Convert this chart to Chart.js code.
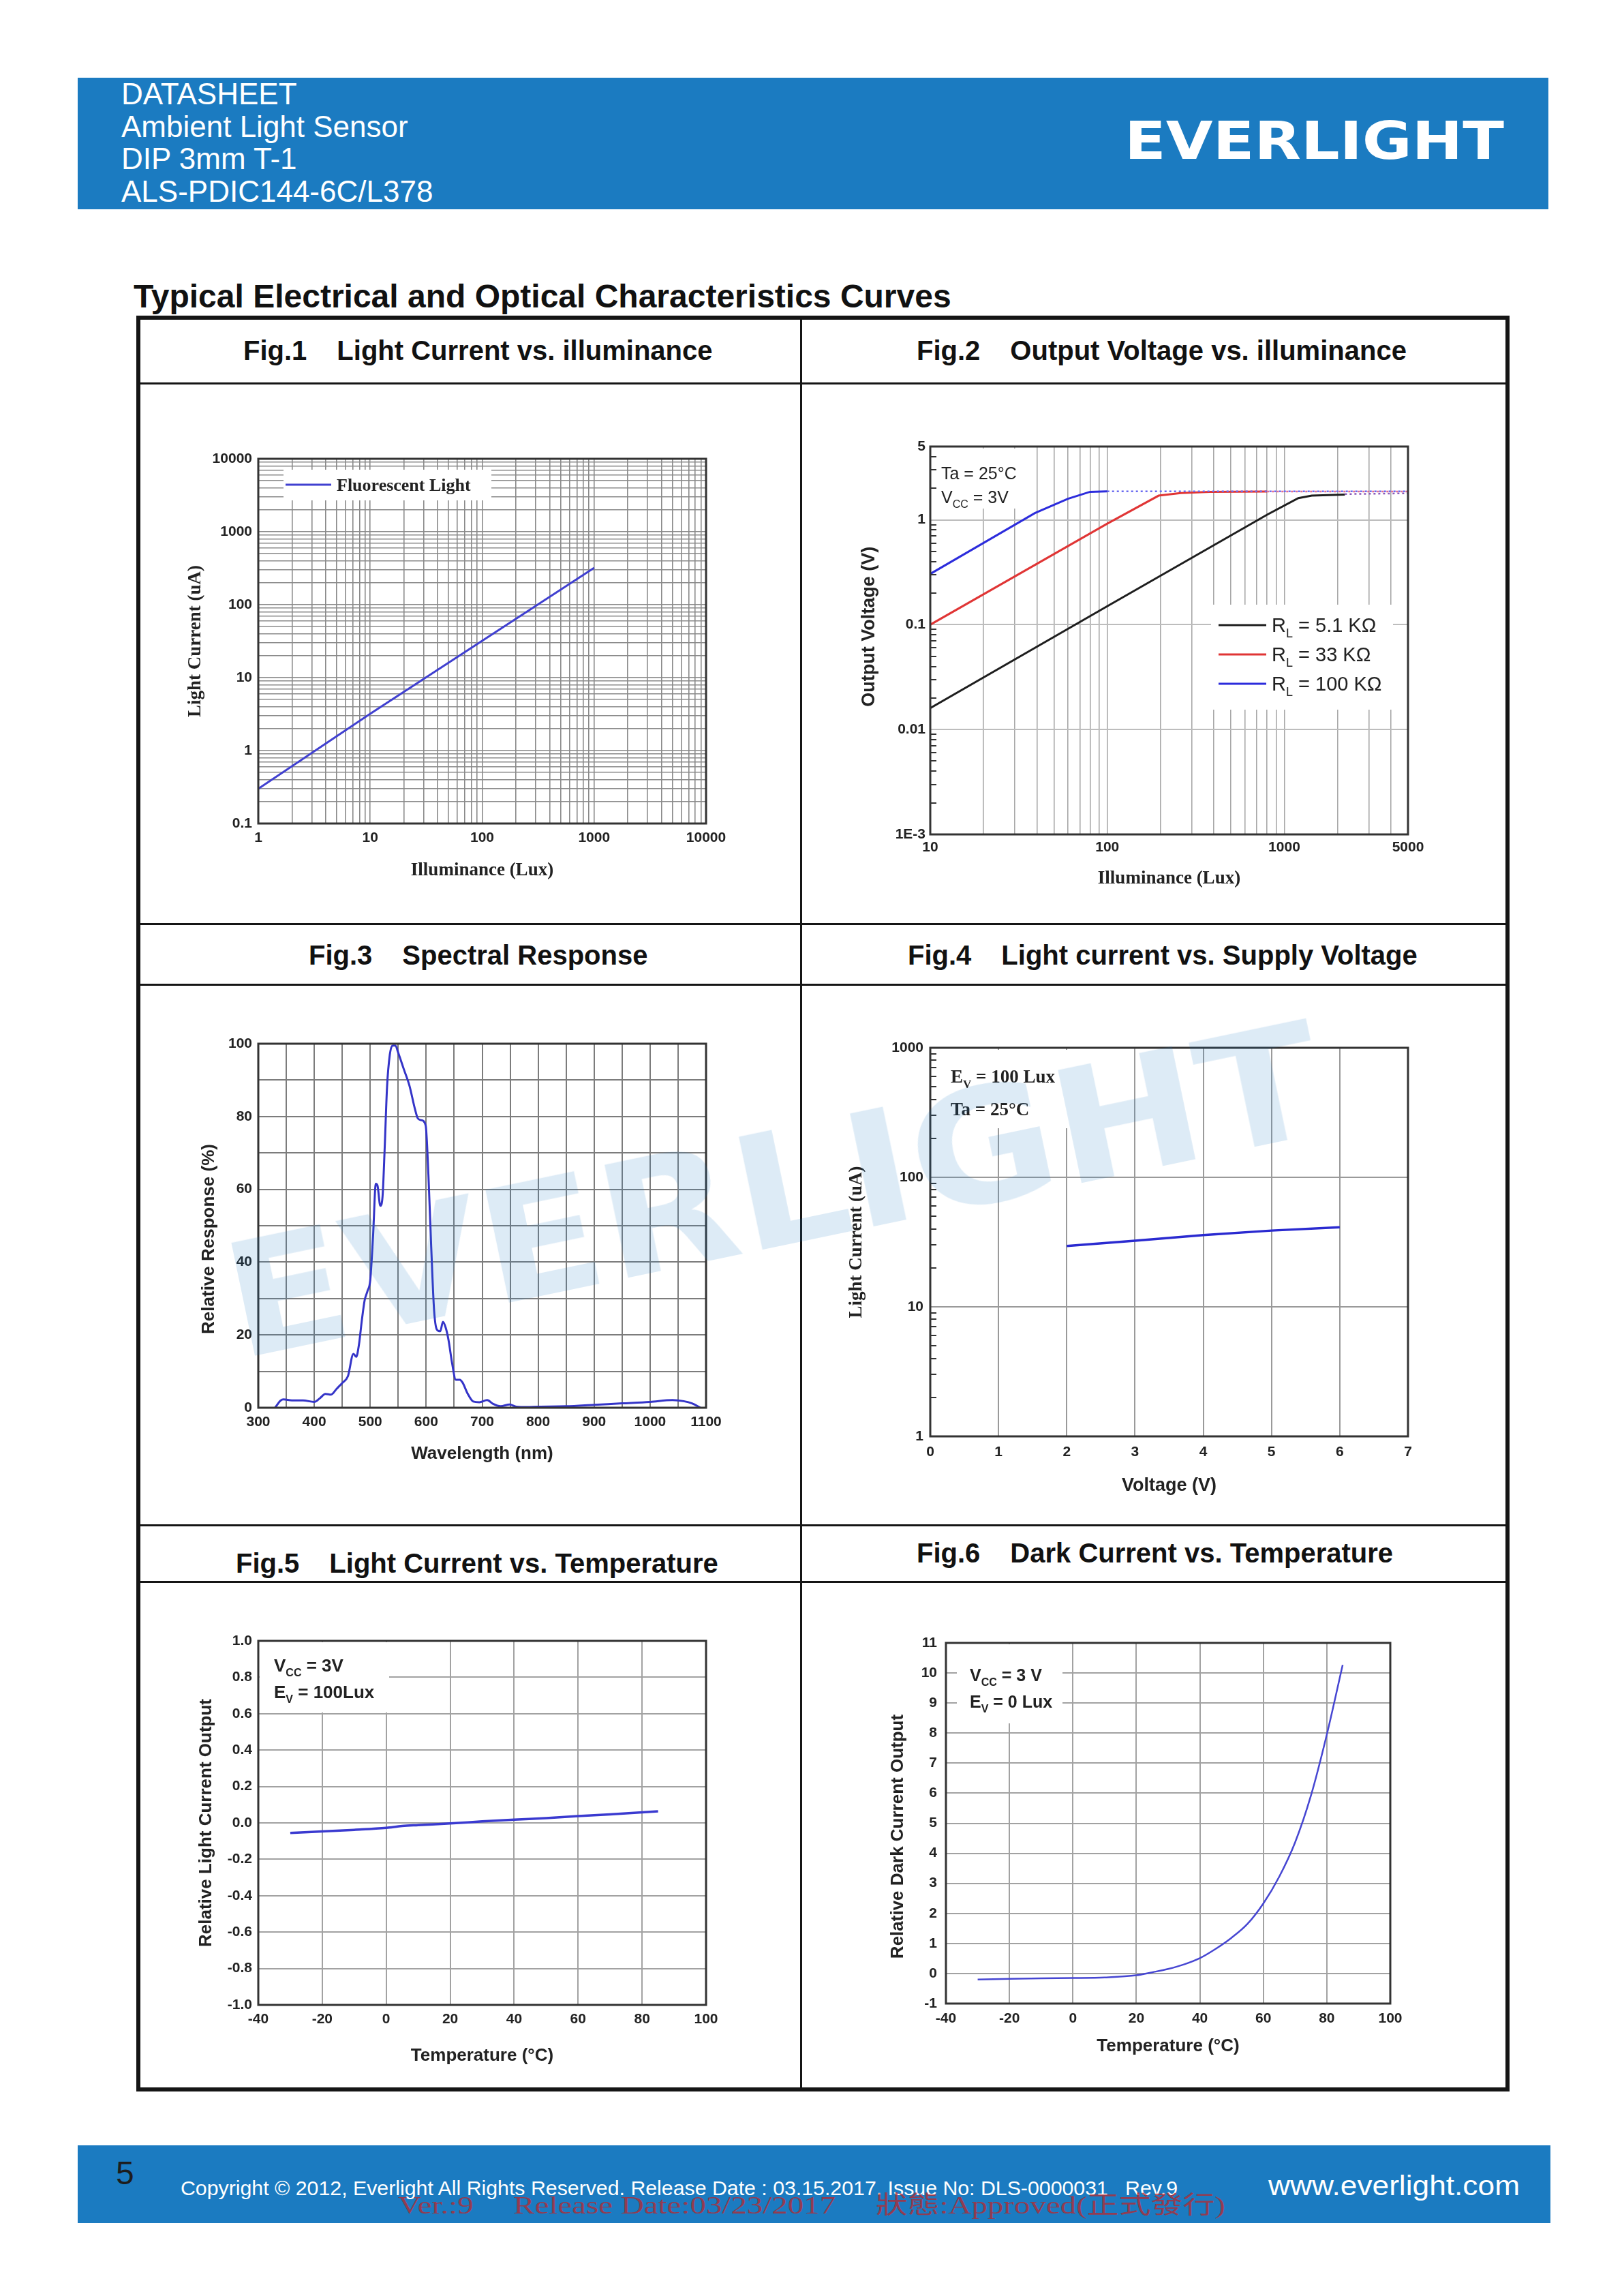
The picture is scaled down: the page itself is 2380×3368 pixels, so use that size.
<!DOCTYPE html>
<html>
<head>
<meta charset="utf-8">
<title>ALS-PDIC144-6C/L378 - Typical Curves</title>
<script src="https://cdn.jsdelivr.net/npm/chart.js@4.4.1/dist/chart.umd.min.js"></script>
<style>
  html, body { margin: 0; padding: 0; }
  body { width: 2380px; height: 3368px; position: relative; background: #fff; overflow: hidden;
         font-family: "Liberation Sans", Arial, sans-serif; color: #111; }
  .band { position: absolute; background: #1b7bc1; }
  .hd { position: absolute; left: 178px; color: #fff; font-size: 44px; line-height: 44px; white-space: nowrap; }
  .logo { position: absolute; left: 1650px; top: 168px; color: #fff; font-family: "DejaVu Sans", sans-serif;
          font-weight: bold; font-size: 77px; line-height: 77px; white-space: nowrap; }
  .rule { position: absolute; background: #151515; }
  .frame { position: absolute; border: 6px solid #151515; box-sizing: border-box; }
  .figt { position: absolute; font-weight: bold; font-size: 40px; line-height: 40px; white-space: nowrap; color: #111; }
  .figt span + span { margin-left: 44px; }
  canvas { position: absolute; }
  #wm { position: absolute; left: 1135px; top: 1748px; font-family: "DejaVu Sans", sans-serif; font-weight: bold;
        font-size: 232px; line-height: 232px; color: rgba(27, 123, 193, 0.15); white-space: nowrap; pointer-events: none; }
  .foot { position: absolute; white-space: nowrap; }
</style>
</head>
<body>

<div class="band" style="left:114px; top:114px; width:2158px; height:193px;"></div>
<div class="hd" style="top:116px;">DATASHEET</div>
<div class="hd" style="top:164px;">Ambient Light Sensor</div>
<div class="hd" style="top:211px;">DIP 3mm T-1</div>
<div class="hd" style="top:259px;">ALS-PDIC144-6C/L378</div>
<div class="logo" id="logo">EVERLIGHT</div>

<div class="figt" style="left:196px; top:411px; font-size:48px; line-height:48px;">Typical Electrical and Optical Characteristics Curves</div>

<div class="frame" style="left:200px; top:463px; width:2015px; height:2605px;"></div>
<div class="rule" style="left:1174px; top:463px; width:3px; height:2605px;"></div>
<div class="rule" style="left:200px; top:561px; width:2015px; height:3px;"></div>
<div class="rule" style="left:200px; top:1354px; width:2015px; height:3px;"></div>
<div class="rule" style="left:200px; top:1443px; width:2015px; height:3px;"></div>
<div class="rule" style="left:200px; top:2236px; width:2015px; height:3px;"></div>
<div class="rule" style="left:200px; top:2319px; width:2015px; height:3px;"></div>

<div class="figt" style="left:357px; top:494px;"><span>Fig.1</span><span>Light Current vs. illuminance</span></div>
<div class="figt" style="left:1345px; top:494px;"><span>Fig.2</span><span>Output Voltage vs. illuminance</span></div>
<div class="figt" style="left:453px; top:1381px;"><span>Fig.3</span><span>Spectral Response</span></div>
<div class="figt" style="left:1332px; top:1381px;"><span>Fig.4</span><span>Light current vs. Supply Voltage</span></div>
<div class="figt" style="left:346px; top:2273px;"><span>Fig.5</span><span>Light Current vs. Temperature</span></div>
<div class="figt" style="left:1345px; top:2258px;"><span>Fig.6</span><span>Dark Current vs. Temperature</span></div>

<canvas id="fig1"></canvas>
<canvas id="fig2"></canvas>
<canvas id="fig3"></canvas>
<canvas id="fig4"></canvas>
<canvas id="fig5"></canvas>
<canvas id="fig6"></canvas>

<div id="wm">EVERLIGHT</div>

<div class="band" style="left:114px; top:3147px; width:2161px; height:114px;"></div>
<div class="foot" style="left:170px; top:3164px; font-size:48px; line-height:48px; color:#1d1d1d;">5</div>
<div class="foot" id="copy" style="left:265px; top:3195px; font-size:30px; line-height:30px; color:#fff;">Copyright © 2012, Everlight All Rights Reserved. Release Date : 03.15.2017. Issue No: DLS-0000031&nbsp;&nbsp;&nbsp;Rev.9</div>
<div class="foot" id="www" style="left:1861px; top:3186px; font-size:40px; line-height:40px; color:#fff;">www.everlight.com</div>
<div class="foot" id="stamp" style="left:584px; top:3217px; font-size:36px; line-height:36px; color:rgba(185,40,45,0.75);
     font-family:'Liberation Serif','Noto Sans CJK TC',serif;">Ver.:9&nbsp;&nbsp;&nbsp;&nbsp;&nbsp;Release Date:03/23/2017&nbsp;&nbsp;&nbsp;&nbsp;&nbsp;狀態:Approved(正式發行)</div>

<script>
// ---------- data ----------
// Fig.1 light current vs illuminance
const fig1Lux = [1, 10, 100, 1000];
const fig1Current = [0.3, 3.2, 32, 320];
const fig1XLabels = [1, 10, 100, 1000, 10000];
const fig1YLabels = [0.1, 1, 10, 100, 1000, 10000];

// Fig.2 output voltage vs illuminance
const fig2BlackLux = [10, 100, 800, 1200, 1430, 2200];
const fig2BlackVolt = [0.016, 0.15, 1.12, 1.61, 1.70, 1.74];
const fig2RedLux = [10, 100, 195, 260, 380, 800];
const fig2RedVolt = [0.1, 0.92, 1.70, 1.80, 1.85, 1.86];
const fig2BlueLux = [10, 39, 60, 80, 100];
const fig2BlueVolt = [0.305, 1.16, 1.59, 1.85, 1.87];
const fig2BlueDotLux = [100, 5000];
const fig2BlueDotVolt = [1.87, 1.87];
const fig2RedDotLux = [800, 5000];
const fig2RedDotVolt = [1.86, 1.86];
const fig2BlackDotLux = [2200, 5000];
const fig2BlackDotVolt = [1.76, 1.79];
const fig2XLabels = [10, 100, 1000, 5000];
const fig2YTicks = [0.001, 0.01, 0.1, 1, 5];
const fig2YNames = ['1E-3', '0.01', '0.1', '1', '5'];

// Fig.3 spectral response
const fig3Wave = [330, 340, 345, 360, 380, 400, 410, 420, 430, 440, 450, 460, 470, 475, 480, 485, 490, 495, 500,
  505, 510, 513, 518, 522, 526, 530, 535, 540, 545, 550, 560, 570, 580, 585, 591, 599, 604, 609, 614, 619, 625,
  630, 635, 640, 646, 653, 660, 665, 674, 684, 695, 709, 719, 733, 749, 761, 780, 800, 850, 900, 950, 1000,
  1040, 1060, 1075, 1090];
const fig3Resp = [0, 2.0, 2.3, 2.0, 2.0, 1.6, 2.6, 3.8, 3.6, 5.2, 6.8, 8.6, 14.8, 14.0, 17.5, 24, 29.5, 32, 35,
  47, 61.5, 61, 55.5, 58, 72, 88, 97, 99.5, 99.5, 97.5, 93, 88.5, 82, 79.5, 79, 77.6, 63.8, 44, 27, 21.5, 21,
  23.6, 21.9, 18.5, 12.5, 7.7, 7.7, 6.9, 3.9, 1.7, 1.5, 2.1, 1.1, 0.4, 0.9, 0.3, 0.2, 0.3, 0.4, 0.8, 1.2, 1.6,
  2.1, 1.8, 1.2, 0];

// Fig.4 light current vs supply voltage
const fig4Volt = [2, 3, 4, 5, 6];
const fig4Current = [29.5, 32.4, 35.8, 38.8, 41.2];
const fig4YTicks = [1, 10, 100, 1000];

// Fig.5 relative light current vs temperature
const fig5Temp = [-30, -20, -10, 0, 5, 10, 20, 30, 40, 50, 60, 70, 80, 85];
const fig5Rel = [-0.055, -0.047, -0.038, -0.027, -0.017, -0.012, -0.003, 0.008, 0.018, 0.026, 0.037, 0.047, 0.058, 0.064];

// Fig.6 relative dark current vs temperature
const fig6Temp = [-30, -20, -10, 0, 10, 20, 25, 30, 35, 40, 45, 50, 55, 60, 65, 70, 75, 80, 85];
const fig6Rel = [-0.2, -0.18, -0.16, -0.15, -0.13, -0.06, 0.04, 0.15, 0.3, 0.51, 0.82, 1.19, 1.65, 2.33, 3.22,
  4.36, 5.92, 7.95, 10.27];

// ---------- helpers ----------
const sans = '"Liberation Sans", Arial, sans-serif';
const serif = '"Liberation Serif", "Times New Roman", serif';
const tickFont = { family: sans, size: 21, weight: 'bold' };

function pts(xs, ys) { return xs.map((x, i) => ({ x: x, y: ys[i] })); }

// 1,2,...,9 per decade
function decadeSteps(fromExp, toExp) {
  const out = [];
  for (let e = fromExp; e < toExp; e++)
    for (let d = 1; d < 10; d++) out.push(+(d * Math.pow(10, e)).toPrecision(3));
  out.push(+Math.pow(10, toExp).toPrecision(3));
  return out;
}

function rich(c, x, y, parts, size, family, weight, color) {
  c.fillStyle = color; c.textAlign = 'left'; c.textBaseline = 'alphabetic';
  parts.forEach(p => {
    const small = p[1] !== '';
    c.font = weight + ' ' + (small ? Math.round(size * 0.62) : size) + 'px ' + family;
    const dy = p[1] === 'sub' ? size * 0.28 : 0;
    c.fillText(p[0], x, y + dy);
    x += c.measureText(p[0]).width;
  });
}

function fitWidth(id, w) {
  const el = document.getElementById(id);
  const r = el.getBoundingClientRect().width;
  el.style.transformOrigin = '0 50%';
  el.style.transform = 'scaleX(' + (w / r) + ')';
}

Chart.register({
  id: 'frame',
  defaults: { color: '#333', width: 3 },
  afterDatasetsDraw(chart, args, opts) {
    const a = chart.chartArea, c = chart.ctx;
    c.save(); c.strokeStyle = opts.color; c.lineWidth = opts.width;
    c.strokeRect(a.left, a.top, a.right - a.left, a.bottom - a.top);
    c.restore();
  }
});

function minorTicks(values) {
  return {
    id: 'minorTicks',
    afterDatasetsDraw(chart) {
      const y = chart.scales.y, a = chart.chartArea, c = chart.ctx;
      c.save(); c.strokeStyle = '#333'; c.lineWidth = 2; c.beginPath();
      values.forEach(v => { const p = Math.round(y.getPixelForValue(v)); c.moveTo(a.left, p); c.lineTo(a.left + 9, p); });
      c.stroke(); c.restore();
    }
  };
}

function logAxis(min, max, grid, show, fmt, gridColor, pad) {
  return {
    type: 'logarithmic', min: min, max: max,
    afterBuildTicks: a => { a.ticks = grid.map(v => ({ value: v })); },
    ticks: { autoSkip: false, maxRotation: 0, padding: pad, font: tickFont, color: '#222',
             callback: v => show.includes(v) ? fmt(v) : '' },
    grid: { color: gridColor, lineWidth: 1.6, drawTicks: false },
    border: { display: false }
  };
}

function linAxis(min, max, step, fmt, gridColor, pad) {
  return {
    type: 'linear', min: min, max: max,
    ticks: { stepSize: step, autoSkip: false, maxRotation: 0, padding: pad, font: tickFont, color: '#222', callback: fmt },
    grid: { color: gridColor, lineWidth: 2, drawTicks: false },
    border: { display: false }
  };
}

function axisTitle(text, family, size) {
  return { display: true, text: text, color: '#222', padding: 0, font: { family: family, size: size, weight: 'bold' } };
}

function line(data, color, width, extra) {
  return Object.assign({ data: data, showLine: true, borderColor: color, borderWidth: width, pointRadius: 0, fill: false }, extra || {});
}

function build(id, box, plot, datasets, xAxis, yAxis, plugins) {
  const cv = document.getElementById(id);
  cv.width = box.R - box.L; cv.height = box.B - box.T;
  cv.style.left = box.L + 'px'; cv.style.top = box.T + 'px';
  xAxis.afterFit = s => { s.height = box.B - plot.b; };
  yAxis.afterFit = s => { s.width = plot.l - box.L; };
  return new Chart(cv, {
    type: 'scatter',
    data: { datasets: datasets },
    options: {
      responsive: false, animation: false, events: [], devicePixelRatio: 1,
      layout: { padding: { left: 0, top: plot.t - box.T, right: box.R - plot.r, bottom: 0 } },
      scales: { x: xAxis, y: yAxis },
      plugins: { legend: { display: false }, tooltip: { enabled: false } }
    },
    plugins: plugins || []
  });
}

// ---------- Fig.1 ----------
const box1 = { L: 271, T: 633, R: 1081, B: 1293 }, plot1 = { l: 379, t: 673, r: 1036, b: 1208 };
{
  const x = logAxis(1, 10000, decadeSteps(0, 4), fig1XLabels, v => String(v), '#8a8a8a', 9);
  x.title = axisTitle('Illuminance (Lux)', serif, 27);
  const y = logAxis(0.1, 10000, decadeSteps(-1, 4), fig1YLabels, v => String(v), '#8a8a8a', 9);
  y.title = axisTitle('Light Current (uA)', serif, 27);
  build('fig1', box1, plot1, [line(pts(fig1Lux, fig1Current), '#4040d0', 3)], x, y, [{
    id: 'fig1notes',
    beforeDatasetsDraw(chart) {
      const c = chart.ctx;
      c.save(); c.translate(-box1.L, -box1.T);
      c.fillStyle = '#fff'; c.fillRect(416, 689, 305, 45);
      c.strokeStyle = '#4040d0'; c.lineWidth = 3;
      c.beginPath(); c.moveTo(419, 711); c.lineTo(486, 711); c.stroke();
      rich(c, 494, 720, [['Fluorescent Light', '']], 26, serif, 'bold', '#222');
      c.restore();
    }
  }]);
}

// ---------- Fig.2 ----------
const box2 = { L: 1259, T: 615, R: 2110, B: 1305 }, plot2 = { l: 1365, t: 655, r: 2066, b: 1224 };
{
  const x = logAxis(10, 5000, decadeSteps(1, 4).filter(v => v <= 5000), fig2XLabels, v => String(v), '#a8a8a8', 7);
  x.title = axisTitle('Illuminance (Lux)', serif, 27);
  const y = logAxis(0.001, 5, fig2YTicks, fig2YTicks, v => fig2YNames[fig2YTicks.indexOf(v)], '#bdbdbd', 7);
  y.grid.lineWidth = 2;
  y.title = axisTitle('\u2002\u2002\u2002Output Voltage (V)', sans, 27);
  const dash = { borderDash: [3, 4] };
  build('fig2', box2, plot2, [
    line(pts(fig2BlueDotLux, fig2BlueDotVolt), '#6a6af0', 2.5, dash),
    line(pts(fig2RedDotLux, fig2RedDotVolt), '#e06a90', 2.5, dash),
    line(pts(fig2BlackDotLux, fig2BlackDotVolt), '#8a5ab8', 2.5, dash),
    line(pts(fig2BlackLux, fig2BlackVolt), '#1e1e1e', 3),
    line(pts(fig2RedLux, fig2RedVolt), '#e03535', 3),
    line(pts(fig2BlueLux, fig2BlueVolt), '#2c2cdc', 3)
  ], x, y, [minorTicks(decadeSteps(-3, 0).concat([2, 3, 4]).filter(v => fig2YTicks.indexOf(v) < 0)), {
    id: 'fig2notes',
    beforeDatasetsDraw(chart) {
      const c = chart.ctx;
      c.save(); c.translate(-box2.L, -box2.T);
      c.fillStyle = '#fff';
      c.fillRect(1368, 658, 132, 88);
      c.fillRect(1777, 887, 267, 154);
      rich(c, 1381, 703, [['Ta = 25°C', '']], 25, sans, 'normal', '#222');
      rich(c, 1381, 738, [['V', ''], ['CC', 'sub'], [' = 3V', '']], 25, sans, 'normal', '#222');
      const rows = [['5.1 KΩ', '#1e1e1e', 917], ['33 KΩ', '#e03535', 960], ['100 KΩ', '#2c2cdc', 1003]];
      rows.forEach(r => {
        c.strokeStyle = r[1]; c.lineWidth = 3;
        c.beginPath(); c.moveTo(1788, r[2]); c.lineTo(1858, r[2]); c.stroke();
        rich(c, 1866, r[2] + 10, [['R', ''], ['L', 'sub'], [' = ' + r[0], '']], 29, sans, 'normal', '#222');
      });
      c.restore();
    }
  }]);
}

// ---------- Fig.3 ----------
const box3 = { L: 291, T: 1495, R: 1080, B: 2148 }, plot3 = { l: 379, t: 1531, r: 1036, b: 2065 };
{
  const x = linAxis(300, 1100, 50, v => v % 100 === 0 ? String(v) : '', '#7c7c7c', 9);
  x.title = axisTitle('Wavelength (nm)', sans, 26);
  const y = linAxis(0, 100, 10, v => v % 20 === 0 ? String(v) : '', '#7c7c7c', 9);
  y.title = axisTitle('Relative Response (%)\u2002\u2002\u2002', sans, 26);
  build('fig3', box3, plot3, [line(pts(fig3Wave, fig3Resp), '#3434c8', 3, { cubicInterpolationMode: 'monotone' })], x, y);
}

// ---------- Fig.4 ----------
const box4 = { L: 1241, T: 1500, R: 2100, B: 2196 }, plot4 = { l: 1365, t: 1537, r: 2066, b: 2107 };
{
  const x = linAxis(0, 7, 1, v => String(v), '#9a9a9a', 11);
  x.title = axisTitle('Voltage (V)', sans, 27);
  const y = logAxis(1, 1000, fig4YTicks, fig4YTicks, v => String(v), '#9a9a9a', 10);
  y.grid.lineWidth = 2;
  y.title = axisTitle('Light Current (uA)', serif, 27);
  build('fig4', box4, plot4, [line(pts(fig4Volt, fig4Current), '#2a2ad0', 3.5)], x, y,
    [minorTicks(decadeSteps(0, 3).filter(v => fig4YTicks.indexOf(v) < 0)), {
      id: 'fig4notes',
      beforeDatasetsDraw(chart) {
        const c = chart.ctx;
        c.save(); c.translate(-box4.L, -box4.T);
        c.fillStyle = '#fff'; c.fillRect(1368, 1540, 222, 115);
        rich(c, 1395, 1588, [['E', ''], ['V', 'sub'], [' = 100 Lux', '']], 27, serif, 'bold', '#222');
        rich(c, 1395, 1636, [['Ta = 25°C', '']], 27, serif, 'bold', '#222');
        c.restore();
      }
    }]);
}

// ---------- Fig.5 ----------
const box5 = { L: 287, T: 2370, R: 1080, B: 3031 }, plot5 = { l: 379, t: 2407, r: 1036, b: 2941 };
{
  const x = linAxis(-40, 100, 20, v => String(v), '#a2a2a2', 9);
  x.title = axisTitle('Temperature (°C)', sans, 26);
  const y = linAxis(-1, 1, 0.2, v => Math.abs(v) < 1e-9 ? '0.0' : v.toFixed(1), '#a2a2a2', 9);
  y.title = axisTitle('Relative Light Current Output', sans, 26);
  build('fig5', box5, plot5, [line(pts(fig5Temp, fig5Rel), '#3a3ad0', 3.5, { cubicInterpolationMode: 'monotone' })], x, y, [{
    id: 'fig5notes',
    beforeDatasetsDraw(chart) {
      const c = chart.ctx;
      c.save(); c.translate(-box5.L, -box5.T);
      c.fillStyle = '#fff'; c.fillRect(381, 2409, 190, 103);
      rich(c, 402, 2452, [['V', ''], ['CC', 'sub'], [' = 3V', '']], 26, sans, 'bold', '#222');
      rich(c, 402, 2491, [['E', ''], ['V', 'sub'], [' = 100Lux', '']], 26, sans, 'bold', '#222');
      c.restore();
    }
  }]);
}

// ---------- Fig.6 ----------
const box6 = { L: 1302, T: 2370, R: 2085, B: 3017 }, plot6 = { l: 1388, t: 2410, r: 2040, b: 2939 };
{
  const x = linAxis(-40, 100, 20, v => String(v), '#a2a2a2', 10);
  x.title = axisTitle('Temperature (°C)', sans, 26);
  const y = linAxis(-1, 11, 1, v => String(v), '#a2a2a2', 13);
  y.title = axisTitle('Relative Dark Current Output\u2002\u2002\u2002', sans, 26);
  build('fig6', box6, plot6, [line(pts(fig6Temp, fig6Rel), '#4646d2', 2.5, { cubicInterpolationMode: 'monotone' })], x, y, [{
    id: 'fig6notes',
    beforeDatasetsDraw(chart) {
      const c = chart.ctx;
      c.save(); c.translate(-box6.L, -box6.T);
      c.fillStyle = '#fff'; c.fillRect(1404, 2412, 155, 116);
      rich(c, 1423, 2466, [['V', ''], ['CC', 'sub'], [' = 3 V', '']], 25, sans, 'bold', '#222');
      rich(c, 1423, 2505, [['E', ''], ['V', 'sub'], [' = 0 Lux', '']], 25, sans, 'bold', '#222');
      c.restore();
    }
  }]);
}

// ---------- text widths matched to the page ----------
fitWidth('logo', 557);
fitWidth('copy', 1463);
fitWidth('www', 369);
fitWidth('stamp', 1214);
{
  const wm = document.getElementById('wm');
  const s = 1636 / wm.offsetWidth;
  wm.style.transform = 'translate(-50%, -50%) rotate(-11.8deg) scaleX(' + s + ')';
}
</script>
</body>
</html>
